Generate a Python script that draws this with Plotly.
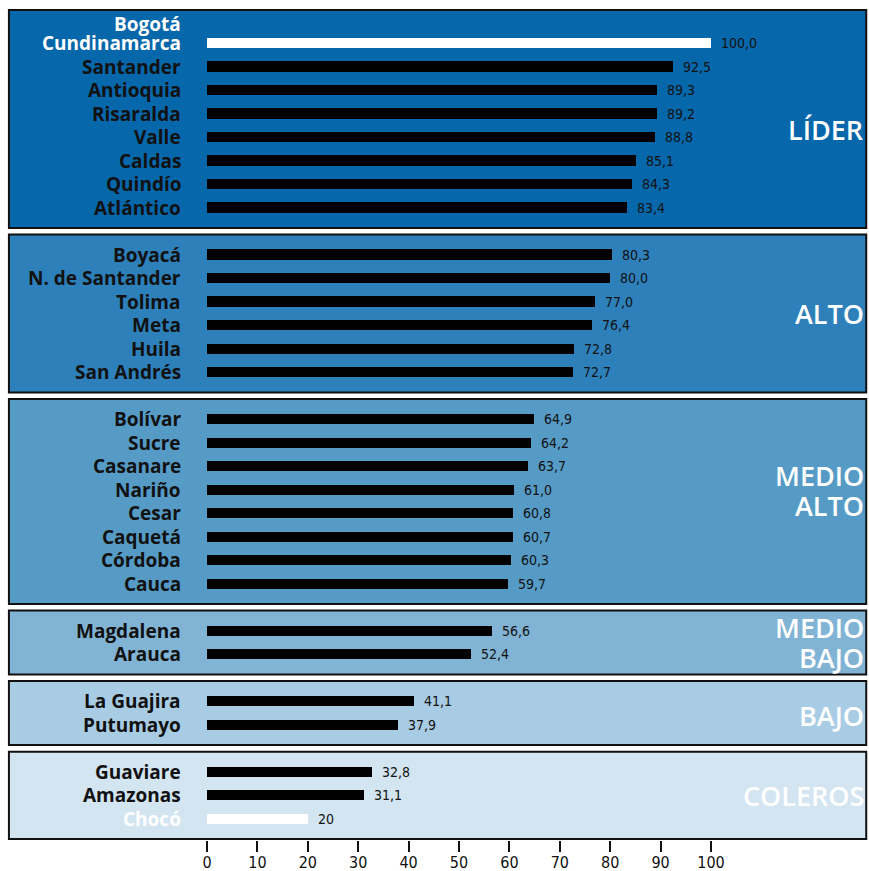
import plotly.graph_objects as go

# ---- data ----
departments = [
    "Bogotá<br>Cundinamarca", "Santander", "Antioquia", "Risaralda", "Valle", "Caldas", "Quindío", "Atlántico",
    "Boyacá", "N. de Santander", "Tolima", "Meta", "Huila", "San Andrés",
    "Bolívar", "Sucre", "Casanare", "Nariño", "Cesar", "Caquetá", "Córdoba", "Cauca",
    "Magdalena", "Arauca",
    "La Guajira", "Putumayo",
    "Guaviare", "Amazonas", "Chocó",
]
values = [100.0, 92.5, 89.3, 89.2, 88.8, 85.1, 84.3, 83.4,
          80.3, 80.0, 77.0, 76.4, 72.8, 72.7,
          64.9, 64.2, 63.7, 61.0, 60.8, 60.7, 60.3, 59.7,
          56.6, 52.4,
          41.1, 37.9,
          32.8, 31.1, 20]
value_labels = ["100,0", "92,5", "89,3", "89,2", "88,8", "85,1", "84,3", "83,4",
                "80,3", "80,0", "77,0", "76,4", "72,8", "72,7",
                "64,9", "64,2", "63,7", "61,0", "60,8", "60,7", "60,3", "59,7",
                "56,6", "52,4",
                "41,1", "37,9",
                "32,8", "31,1", "20"]
groups = ["LÍDER", "ALTO", "MEDIO<br>ALTO", "MEDIO<br>BAJO", "BAJO", "COLEROS"]
group_sizes = [8, 6, 8, 2, 2, 3]
highlight = ["Bogotá<br>Cundinamarca", "Chocó"]
x_ticks = [0, 10, 20, 30, 40, 50, 60, 70, 80, 90, 100]

# ---- styling ----
group_colors = ["#0767ab", "#2d80ba", "#569bc6", "#80b3d4", "#a8cce4", "#d3e5f1"]
label_font = "Open Sans, Lato, sans-serif"
narrow_font = "Liberation Sans Narrow, DejaVu Sans Condensed, Arial Narrow, sans-serif"

# slot positions with one empty slot between groups
ypos = []
group_spans = []
slot = 0
for g, n in zip(groups, group_sizes):
    first = slot
    for _ in range(n):
        ypos.append(slot)
        slot += 1
    group_spans.append((first, slot - 1))
    slot += 1

bar_colors = ["white" if d in highlight else "black" for d in departments]
label_colors = ["white" if d in highlight else "#111111" for d in departments]

fig = go.Figure()
fig.add_trace(go.Bar(
    x=values, y=ypos, orientation="h", width=0.43,
    marker=dict(color=bar_colors, line=dict(width=0)),
    hoverinfo="skip", showlegend=False,
))

shapes = []
annotations = []
group_label_offsets = [0.2, 0.0, -0.45, 0.0, 0.13, 0.0]
group_line_gap = 30
for i, ((a, b), g) in enumerate(zip(group_spans, groups)):
    top = a - (1.4 if i == 0 else 0.85)
    bottom = b + 0.87
    shapes.append(dict(type="rect", xref="x", yref="y", x0=-39.3, x1=130.8,
                       y0=top, y1=bottom, fillcolor=group_colors[i],
                       line=dict(color="#111111", width=2), layer="below"))
    lines = g.split("<br>")
    n = len(lines)
    for k, ln in enumerate(lines):
        annotations.append(dict(x=130.6, y=(a + b) / 2 + group_label_offsets[i], xref="x", yref="y",
                                text=ln, showarrow=False, xanchor="right", yanchor="middle",
                                yshift=((n - 1) / 2 - k) * group_line_gap, borderpad=0,
                                font=dict(family=label_font, size=27, color="white", weight=600)))

for d, v, t, y, c in zip(departments, values, value_labels, ypos, label_colors):
    lines = d.split("<br>")
    n = len(lines)
    for k, ln in enumerate(lines):
        annotations.append(dict(x=-5, y=y, xref="x", yref="y", text=ln, showarrow=False,
                                xanchor="right", yanchor="middle", borderpad=0,
                                yshift=(n - 1 - k) * 19,
                                font=dict(family=label_font, size=19, color=c, weight=700)))
    annotations.append(dict(x=v, y=y, xref="x", yref="y", text=t, showarrow=False,
                            xanchor="left", yanchor="middle", xshift=8,
                            font=dict(family=narrow_font, size=14, color="#111111")))

fig.update_layout(
    width=869, height=871,
    margin=dict(l=0, r=0, t=0, b=31),
    plot_bgcolor="white", paper_bgcolor="white",
    shapes=shapes, annotations=annotations,
    bargap=0,
    xaxis=dict(range=[-41.07, 131.35], tickvals=x_ticks, ticktext=[str(t) for t in x_ticks],
               ticks="outside", ticklen=11, tickwidth=1.5, tickcolor="#111111",
               ticklabelstandoff=-3,
               showgrid=False, zeroline=False, showline=False, automargin=False,
               tickfont=dict(family=narrow_font, size=16, color="#111111")),
    yaxis=dict(range=[33.91, -1.83], showticklabels=False, showgrid=False,
               zeroline=False, showline=False, ticks="", automargin=False),
)

fig.write_html("out.html", config={"displayModeBar": False},
               post_script="document.body.style.margin='0';document.body.style.overflow='hidden';")
